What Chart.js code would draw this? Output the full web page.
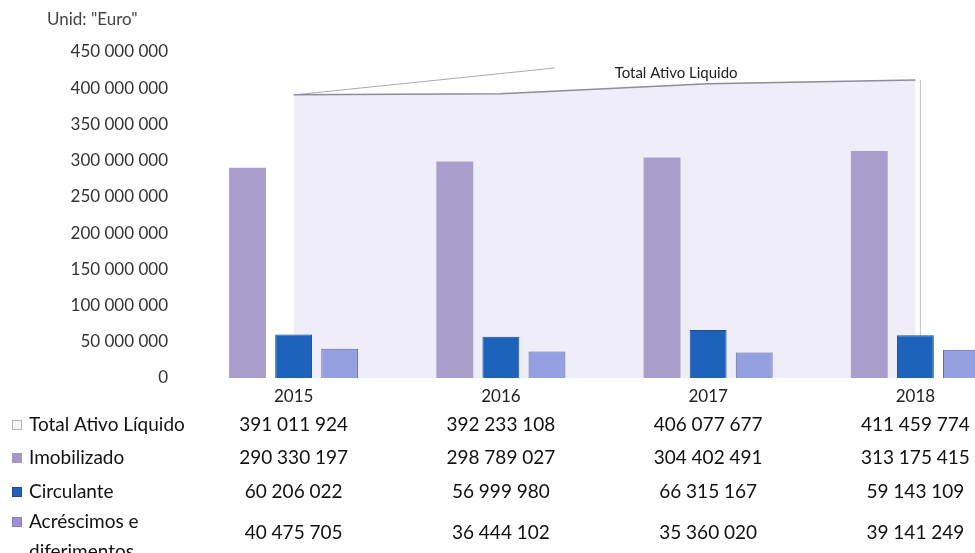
<!DOCTYPE html>
<html>
<head>
<meta charset="utf-8">
<script src="https://cdn.jsdelivr.net/npm/chart.js@4/dist/chart.umd.min.js"></script>
<style>
  html, body { margin: 0; padding: 0; background: #fff; overflow: hidden; }
  #wrap { width: 1019px; height: 553px; }
</style>
</head>
<body>
<div id="wrap"><canvas id="ativoChart" width="1019" height="553"></canvas></div>
<script>
const years = ['2015', '2016', '2017', '2018'];
const totalAtivo = [391011924, 392233108, 406077677, 411459774];
const imobilizado = [290330197, 298789027, 304402491, 313175415];
const circulante = [60206022, 56999980, 66315167, 59143109];
const acrescimos = [40475705, 36444102, 35360020, 39141249];
const yTicksMax = 450000000;
const yTicksStep = 50000000;

function fmt(v) {
    return String(v).replace(/\B(?=(\d{3})+(?!\d))/g, ' ');
}

const FONT = 'Lato, "Open Sans", sans-serif';

// table rows under the chart
const tableRows = [
    { label: ['Total Ativo Líquido'], values: totalAtivo, fill: '#f6f6f8', stroke: '#b5b5bd', y: 425 },
    { label: ['Imobilizado'], values: imobilizado, fill: '#a497c8', stroke: '#a497c8', y: 458 },
    { label: ['Circulante'], values: circulante, fill: '#1f5fb5', stroke: '#1f4f90', y: 492 },
    { label: ['Acréscimos e', 'diferimentos'], values: acrescimos, fill: '#a18fd6', stroke: '#8a7cc0', y: 533 }
];

const extras = {
    id: 'extras',
    beforeDatasetsDraw(chart) {
        // 3d edges of the area behind the bars
        const ctx = chart.ctx;
        const pts = chart.getDatasetMeta(0).data;
        const x = chart.scales.x, y = chart.scales.y;
        const base = y.getPixelForValue(0);
        const last = pts[pts.length - 1];
        ctx.save();
        ctx.strokeStyle = '#c2c1d0';
        ctx.lineWidth = 1;
        ctx.beginPath();
        ctx.moveTo(pts[0].x + 1, pts[0].y);
        ctx.lineTo(pts[0].x + 1, base);
        ctx.moveTo(last.x + 5, last.y);
        ctx.lineTo(last.x + 5, base - 40);
        ctx.stroke();
        ctx.strokeStyle = '#a8a8b4';
        ctx.beginPath();
        ctx.moveTo(pts[0].x + 2, pts[0].y);
        ctx.lineTo(x.getPixelForValue(1) + 54, y.getPixelForValue(428000000));
        ctx.stroke();
        ctx.restore();
    },
    afterDraw(chart) {
        const ctx = chart.ctx;
        const x = chart.scales.x;
        ctx.save();
        ctx.textBaseline = 'middle';

        // unit label
        ctx.fillStyle = '#444';
        ctx.font = '17px ' + FONT;
        ctx.textAlign = 'left';
        ctx.fillText('Unid: "Euro"', 47, 20);

        // series label on the area
        ctx.fillStyle = '#222';
        ctx.font = '15px ' + FONT;
        ctx.textAlign = 'center';
        ctx.fillText('Total Ativo Liquido', x.getPixelForValue(2) - 32, 73);

        // data table
        tableRows.forEach(row => {
            const ly = row.label.length > 1 ? row.y - 11 : row.y;
            ctx.fillStyle = row.fill;
            ctx.strokeStyle = row.stroke;
            ctx.lineWidth = 1;
            ctx.fillRect(12.5, ly - 4.5, 9, 9);
            ctx.strokeRect(12.5, ly - 4.5, 9, 9);
            ctx.fillStyle = '#111';
            ctx.font = '19px ' + FONT;
            ctx.textAlign = 'left';
            row.label.forEach((t, i) => ctx.fillText(t, 29, ly + i * 30));
            ctx.textAlign = 'center';
            row.values.forEach((v, i) => {
                ctx.fillText(fmt(v), x.getPixelForValue(i), row.y);
            });
        });
        ctx.restore();
    }
};

new Chart(document.getElementById('ativoChart').getContext('2d'), {
    data: {
        labels: years,
        datasets: [
            {
                type: 'line',
                label: 'Total Ativo Líquido',
                data: totalAtivo,
                fill: 'origin',
                backgroundColor: '#eeedf8',
                borderColor: '#8c8c9a',
                borderWidth: 1.5,
                pointRadius: 0,
                tension: 0,
                order: 5
            },
            {
                type: 'bar',
                label: 'Imobilizado',
                data: imobilizado,
                backgroundColor: '#a99dcb',
                order: 1
            },
            {
                type: 'bar',
                label: 'Circulante',
                data: circulante,
                backgroundColor: '#1d63bb',
                borderColor: '#1b4e92',
                borderWidth: 1,
                order: 1
            },
            {
                type: 'bar',
                label: 'Acréscimos e diferimentos',
                data: acrescimos,
                backgroundColor: '#94a0e0',
                borderColor: '#62639c',
                borderWidth: 1,
                order: 1
            }
        ]
    },
    options: {
        responsive: false,
        animation: false,
        layout: { padding: { top: 52, left: 0, right: 0, bottom: 0 } },
        datasets: {
            bar: { categoryPercentage: 0.667, barPercentage: 0.8 }
        },
        plugins: {
            legend: { display: false },
            tooltip: { enabled: false }
        },
        scales: {
            x: {
                offset: true,
                grid: { display: false },
                border: { display: false },
                ticks: { color: '#222', font: { family: FONT, size: 17 }, padding: 0 },
                afterFit: s => { s.height = 175; }
            },
            y: {
                min: 0,
                max: yTicksMax,
                grid: { display: false, drawTicks: false },
                border: { display: false },
                ticks: {
                    stepSize: yTicksStep,
                    color: '#333',
                    padding: 22,
                    font: { family: FONT, size: 17 },
                    callback: v => fmt(v)
                },
                afterFit: s => { s.width = 190; }
            }
        }
    },
    plugins: [extras]
});
</script>
</body>
</html>
